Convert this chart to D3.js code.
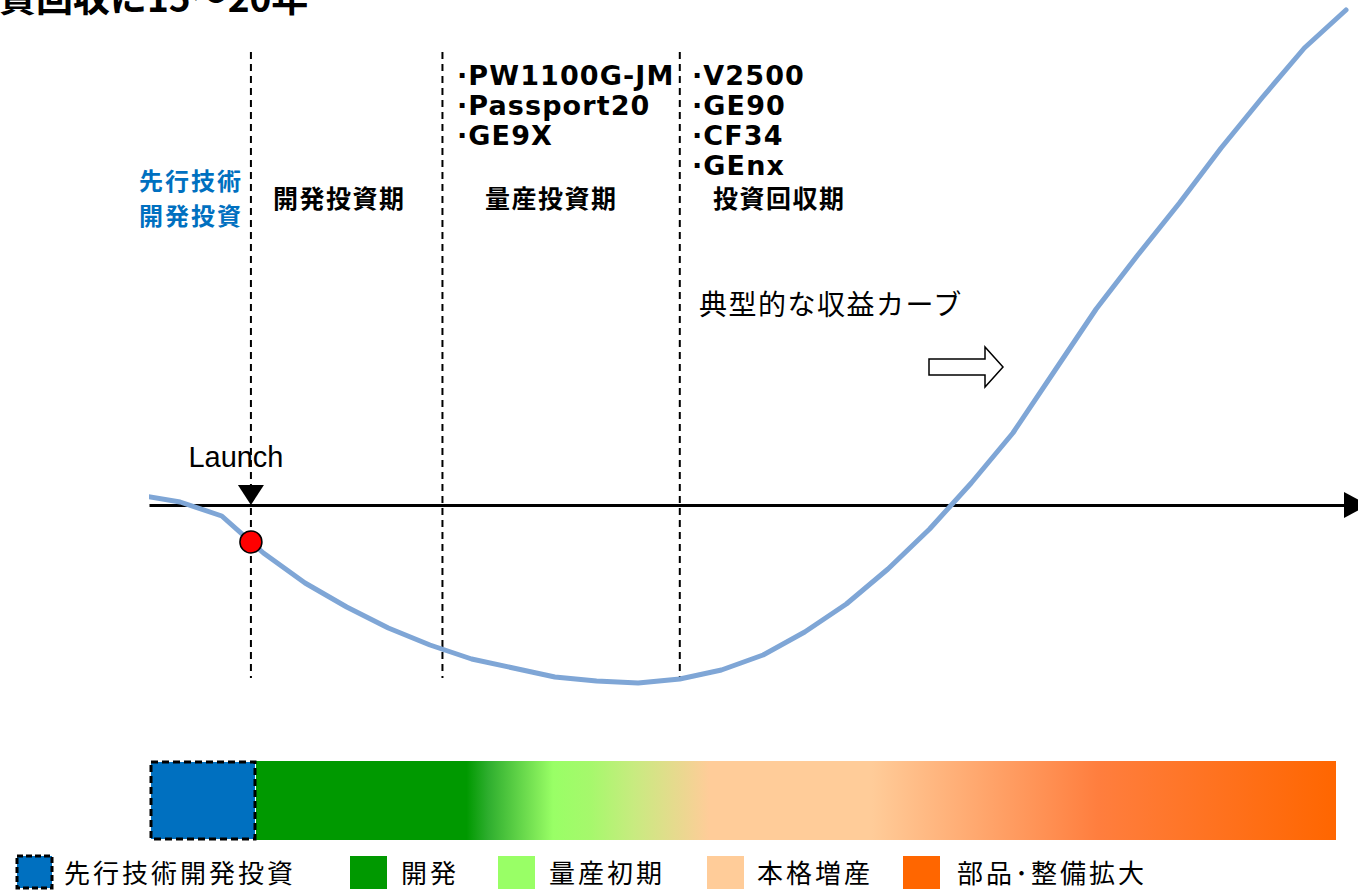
<!DOCTYPE html>
<html>
<head>
<meta charset="utf-8">
<script src="https://cdn.jsdelivr.net/npm/d3@7"></script>
<style>
  html, body { margin: 0; padding: 0; background: #fff; }
  svg { display: block; }
  .jp { font-family: "Noto Sans CJK JP", "Noto Sans", sans-serif; }
  .model { font-family: "DejaVu Sans", Verdana, sans-serif; font-weight: bold; }
</style>
</head>
<body>
<svg id="chart" width="1358" height="891"></svg>
<script>
// Cumulative cash flow of an engine programme, one value per period
const periods = d3.range(30);
const cashFlow = [1.0, 0.3, -1.1, -4.8, -7.8, -10.2, -12.3, -14.0, -15.4, -16.3,
                  -17.2, -17.6, -17.8, -17.4, -16.5, -15.0, -12.7, -9.9, -6.4, -2.4,
                  2.2, 7.2, 13.4, 19.6, 25.0, 30.2, 35.7, 40.8, 45.7, 49.5];

// Phase boundaries (in periods) and their labels
const launchAt = 2.7;
const phaseBounds = [2.7, 7.3, 13];
const phaseNames = ["開発投資期", "量産投資期", "投資回収期"];
const preLabel = ["先行技術", "開発投資"];
const massProdEngines = ["·PW1100G-JM", "·Passport20", "·GE9X"];
const recoveryEngines = ["·V2500", "·GE90", "·CF34", "·GEnx"];

// Bottom phase bar legend
const legendNames = ["先行技術開発投資", "開発", "量産初期", "本格増産", "部品･整備拡大"];
const legendColors = ["#0070C0", "#009900", "#99FF66", "#FFCC99", "#FF6600"];

const svg = d3.select("#chart");

const x = d3.scaleLinear().domain([0, 29]).range([138.5, 1346]);
const y = d3.scaleLinear().domain([-20, 50]).range([705, 5]);
const plotLeft = 149;

// Heading (runs off the top-left edge)
svg.append("text").attr("class", "jp")
  .attr("x", -38).attr("y", 12)
  .attr("font-size", 37).attr("font-weight", 700)
  .text("投資回収に15～20年");

// Horizontal zero axis with arrow head
const axisG = svg.append("g").attr("transform", `translate(0,${y(0)})`)
  .call(d3.axisBottom(d3.scaleLinear().domain([0, 1]).range([plotLeft, 1346]))
          .tickValues([]).tickSizeOuter(0));
axisG.select(".domain").attr("stroke", "#000").attr("stroke-width", 3);
svg.append("path")
  .attr("d", `M1344,${y(0) - 13} L1368,${y(0)} L1344,${y(0) + 13} Z`)
  .attr("fill", "#000");

// Phase separators
svg.selectAll("line.phase").data(phaseBounds).join("line")
  .attr("class", "phase")
  .attr("x1", d => x(d)).attr("x2", d => x(d))
  .attr("y1", 52).attr("y2", 678)
  .attr("stroke", "#000").attr("stroke-width", 2)
  .attr("stroke-dasharray", "7,5");

// Cash flow curve
svg.append("clipPath").attr("id", "plotClip")
  .append("rect").attr("x", plotLeft).attr("y", 0).attr("width", 1358 - plotLeft).attr("height", 891);
const line = d3.line().x((d, i) => x(periods[i])).y(d => y(d));
svg.append("path").datum(cashFlow)
  .attr("clip-path", "url(#plotClip)")
  .attr("d", line)
  .attr("fill", "none")
  .attr("stroke", "#7FA6D6")
  .attr("stroke-width", 5)
  .attr("stroke-linecap", "round")
  .attr("stroke-linejoin", "round");

// Launch marker
const li = Math.floor(launchAt), lf = launchAt - li;
const launchValue = cashFlow[li] + (cashFlow[li + 1] - cashFlow[li]) * lf;
const lx = x(launchAt);
svg.append("path")
  .attr("d", `M${lx - 13},${y(0) - 20} L${lx + 13},${y(0) - 20} L${lx},${y(0)} Z`)
  .attr("fill", "#000");
svg.append("text")
  .attr("x", lx - 15).attr("y", 467)
  .attr("text-anchor", "middle")
  .attr("font-family", "Liberation Sans, Arial, sans-serif")
  .attr("font-size", 30)
  .attr("textLength", 95)
  .attr("lengthAdjust", "spacingAndGlyphs")
  .text("Launch");
svg.append("circle")
  .attr("cx", lx).attr("cy", y(launchValue)).attr("r", 11)
  .attr("fill", "#FF0000").attr("stroke", "#000").attr("stroke-width", 1.5);

// Phase labels
svg.selectAll("text.pre").data(preLabel).join("text")
  .attr("class", "jp pre")
  .attr("x", 243).attr("y", (d, i) => 179.5 + i * 35)
  .attr("text-anchor", "end").attr("dominant-baseline", "central")
  .attr("font-size", 24).attr("font-weight", 700).attr("letter-spacing", 2)
  .attr("fill", "#0070C0")
  .text(d => d);
const phaseLabelX = [273, 485, 713];
svg.selectAll("text.phaseName").data(phaseNames).join("text")
  .attr("class", "jp phaseName")
  .attr("x", (d, i) => phaseLabelX[i]).attr("y", 197)
  .attr("dominant-baseline", "central")
  .attr("font-size", 25).attr("font-weight", 700).attr("letter-spacing", 1.5)
  .text(d => d);

// Engine programmes per phase
svg.selectAll("text.mp").data(massProdEngines).join("text")
  .attr("class", "model mp")
  .attr("x", 457).attr("y", (d, i) => 85 + i * 30)
  .attr("font-size", 27).attr("letter-spacing", 1.1)
  .text(d => d);
svg.selectAll("text.rc").data(recoveryEngines).join("text")
  .attr("class", "model rc")
  .attr("x", 692).attr("y", (d, i) => 85 + i * 30)
  .attr("font-size", 27).attr("letter-spacing", 1.1)
  .text(d => d);

// Curve annotation and block arrow
svg.append("text").attr("class", "jp")
  .attr("x", 699).attr("y", 303).attr("dominant-baseline", "central")
  .attr("font-size", 28).attr("letter-spacing", 1.5)
  .text("典型的な収益カーブ");
svg.append("path")
  .attr("d", "M929,359 L985,359 L985,347 L1003,367 L985,387 L985,375 L929,375 Z")
  .attr("fill", "#fff").attr("stroke", "#000").attr("stroke-width", 1.5);

// Phase bar with gradient
const grad = svg.append("defs").append("linearGradient")
  .attr("id", "phaseGrad").attr("x1", "0%").attr("x2", "100%");
const gradStops = [
  [0, "#009900"], [0.195, "#009900"], [0.215, "#2EAE2E"], [0.265, "#88F05C"],
  [0.275, "#99FF66"], [0.31, "#A6F86C"], [0.35, "#C8EB80"], [0.42, "#FFCC99"],
  [0.57, "#FFCC99"], [0.78, "#FF7E3E"], [1, "#FF6600"]
];
grad.selectAll("stop").data(gradStops).join("stop")
  .attr("offset", d => d[0]).attr("stop-color", d => d[1]);
svg.append("rect")
  .attr("x", 256).attr("y", 761).attr("width", 1080).attr("height", 79)
  .attr("fill", "url(#phaseGrad)");
svg.append("rect")
  .attr("x", 151).attr("y", 762).attr("width", 104).attr("height", 77)
  .attr("fill", legendColors[0])
  .attr("stroke", "#000").attr("stroke-width", 3).attr("stroke-dasharray", "7,4");

// Legend
const swatchX = [17, 350, 498, 707, 903];
const labelX = [64, 401, 549, 757, 957];
const lg = svg.selectAll("g.legend").data(legendNames).join("g").attr("class", "legend");
lg.append("rect")
  .attr("x", (d, i) => swatchX[i]).attr("y", 856)
  .attr("width", (d, i) => i === 0 ? 35 : 37).attr("height", (d, i) => i === 0 ? 32 : 33)
  .attr("fill", (d, i) => legendColors[i])
  .attr("stroke", (d, i) => i === 0 ? "#000" : "none")
  .attr("stroke-width", 3).attr("stroke-dasharray", "6,3");
lg.append("text").attr("class", "jp")
  .attr("x", (d, i) => labelX[i]).attr("y", 871.5)
  .attr("dominant-baseline", "central")
  .attr("font-size", 26).attr("letter-spacing", 3)
  .text(d => d);
</script>
</body>
</html>
